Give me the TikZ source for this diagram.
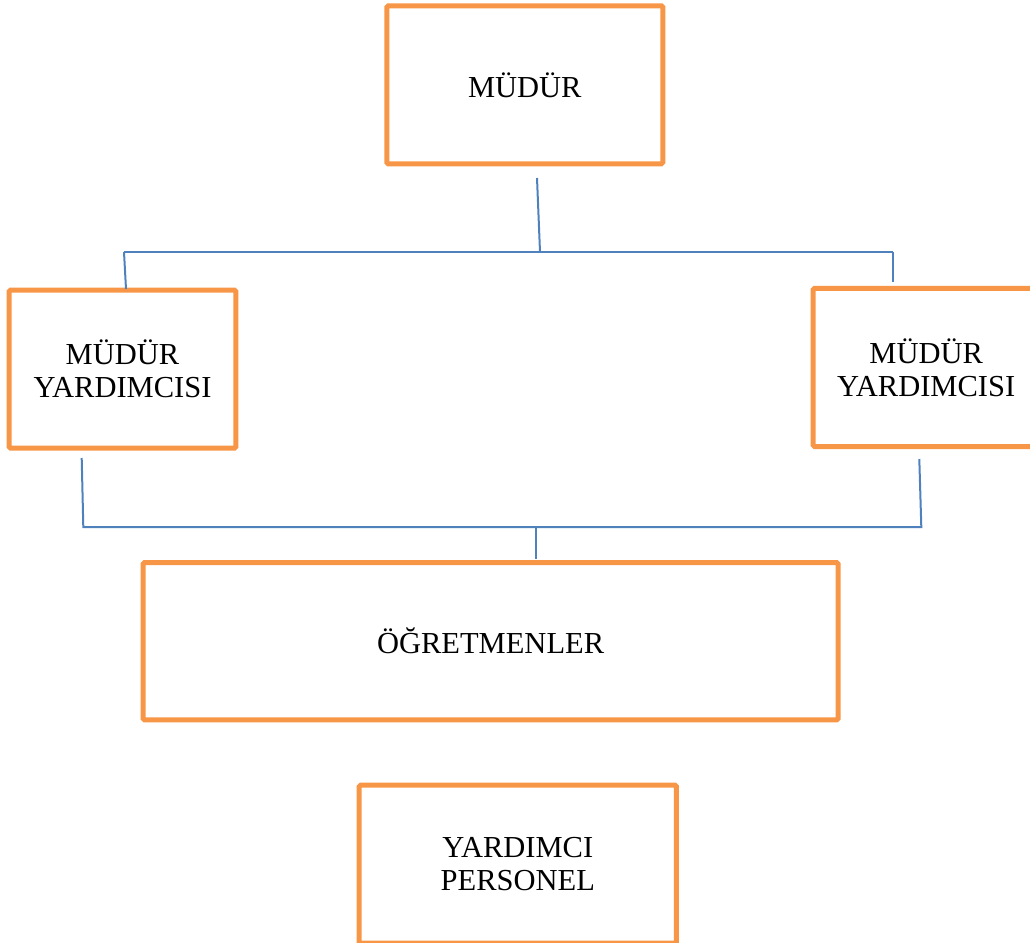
\documentclass[tikz,border=0pt]{standalone}
\usepackage{fontspec}
\setmainfont{Liberation Serif}
\definecolor{turuncu}{HTML}{F79646}
\definecolor{mavi}{HTML}{4F81BD}
\tikzset{
	kutu/.style={draw=turuncu,line width=5pt,rounded corners=1.5pt,inner sep=0pt,align=center,font=\fontsize{30.5}{33}\selectfont},
	baglanti/.style={draw=mavi,line width=2pt}
}
\begin{document}
\begin{tikzpicture}[x=1pt,y=-1pt]
	\useasboundingbox (0,0) rectangle (1030,942);
	\node[kutu,minimum width=276pt,minimum height=158pt] (mudur) at (524.8,84.8) {MÜDÜR};
	\node[kutu,minimum width=226.6pt,minimum height=158.2pt] (yrdsol) at (122.5,369.1) {MÜDÜR\\YARDIMCISI};
	\node[kutu,minimum width=226pt,minimum height=158.3pt] (yrdsag) at (926.2,367.4) {MÜDÜR\\YARDIMCISI};
	\node[kutu,minimum width=695pt,minimum height=157.3pt] (ogretmen) at (490.6,641.2) {ÖĞRETMENLER};
	\node[kutu,minimum width=317.3pt,minimum height=158pt] (personel) at (517.8,864.2) {YARDIMCI\\PERSONEL};
	% ust baglantilar
	\coordinate (m1) at (537,178);
	\coordinate (m2) at (540,252);
	\coordinate (ys) at (124,252);
	\coordinate (yg) at (892.5,252);
	\coordinate (ysalt) at (126,289);
	\coordinate (ygalt) at (892.5,282);
	\draw[baglanti] (m1) -- (m2);
	\draw[baglanti] (ys) -- (yg);
	\draw[baglanti] (ys) -- (ysalt);
	\draw[baglanti] (yg) -- (ygalt);
	% alt baglantilar
	\coordinate (s1) at (81.7,458);
	\coordinate (s2) at (83.3,527);
	\coordinate (g1) at (919.3,459);
	\coordinate (g2) at (921.3,527);
	\coordinate (o1) at (535.5,527);
	\coordinate (o2) at (535.5,559);
	\draw[baglanti] (s1) -- (s2) -- (g2) -- (g1);
	\draw[baglanti] (o1) -- (o2);
\end{tikzpicture}
\end{document}
